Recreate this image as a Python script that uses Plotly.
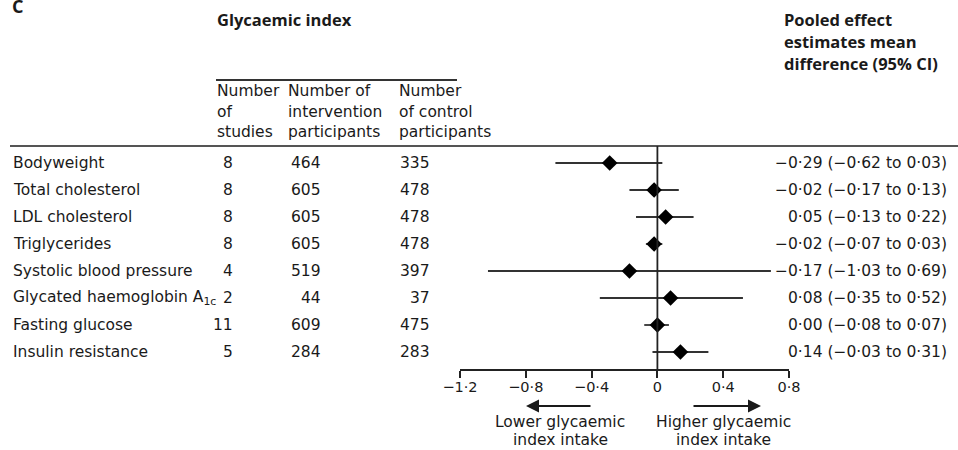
import plotly.graph_objects as go

# Outcomes and study counts
outcomes = [
    "Bodyweight",
    "Total cholesterol",
    "LDL cholesterol",
    "Triglycerides",
    "Systolic blood pressure",
    "Glycated haemoglobin A<sub>1c</sub>",
    "Fasting glucose",
    "Insulin resistance",
]
n_studies = [8, 8, 8, 8, 4, 2, 11, 5]
n_intervention = [464, 605, 605, 605, 519, 44, 609, 284]
n_control = [335, 478, 478, 478, 397, 37, 475, 283]

# Pooled mean differences with 95% CI
mean_diff = [-0.29, -0.02, 0.05, -0.02, -0.17, 0.08, 0.00, 0.14]
ci_low = [-0.62, -0.17, -0.13, -0.07, -1.03, -0.35, -0.08, -0.03]
ci_high = [0.03, 0.13, 0.22, 0.03, 0.69, 0.52, 0.07, 0.31]

tick_vals = [-1.2, -0.8, -0.4, 0, 0.4, 0.8]

W, H = 958, 450
FONT = "DejaVu Sans"
BOLD_FONT = "Open Sans"
TXT = "#1a1a1a"
FS = 15.5
BFS = 16.5


def fmt(v):
    s = f"{abs(v):.2f}".replace(".", "\u00b7")
    return ("\u2212" + s) if v < 0 else s


def fmt_tick(v):
    if v == 0:
        return "0"
    s = f"{abs(v):.1f}".replace(".", "\u00b7")
    return ("\u2212" + s) if v < 0 else s


def px(x):
    return x / W


def py(y):
    return 1 - y / H


rows = list(range(len(outcomes)))

fig = go.Figure()
fig.add_trace(go.Scatter(
    x=mean_diff,
    y=rows,
    mode="markers",
    marker=dict(symbol="diamond", size=12, color="black"),
    error_x=dict(
        type="data",
        symmetric=False,
        array=[h - m for h, m in zip(ci_high, mean_diff)],
        arrayminus=[m - l for m, l in zip(mean_diff, ci_low)],
        color="#333333",
        thickness=1.8,
        width=0,
    ),
    showlegend=False,
    hoverinfo="skip",
))

ann = []


def add_text(text, x, y, xanchor="left", yref="y", bold=False, size=None):
    ann.append(dict(
        text=f"<b>{text}</b>" if bold else text,
        x=x, y=y, xref="paper", yref=yref,
        xanchor=xanchor, yanchor="middle",
        align=xanchor if xanchor != "center" else "center",
        showarrow=False, borderpad=0,
        font=dict(family=BOLD_FONT if bold else FONT,
                  size=size or (BFS if bold else FS), color=TXT),
    ))


# Table body
for i in rows:
    add_text(outcomes[i], px(12), i)
    add_text(str(n_studies[i]), px(234), i, xanchor="right")
    add_text(str(n_intervention[i]), px(322), i, xanchor="right")
    add_text(str(n_control[i]), px(431), i, xanchor="right")
    ci_text = f"{fmt(mean_diff[i])} ({fmt(ci_low[i])} to {fmt(ci_high[i])})"
    add_text(ci_text, px(948), i, xanchor="right")

# Headers
add_text("C", px(11), py(6), yref="paper", bold=True, size=18)
add_text("Glycaemic index", px(216), py(20), yref="paper", bold=True)
for j, line in enumerate(["Pooled effect", "estimates mean", "difference (95% CI)"]):
    add_text(line, px(783), py(19 + 22 * j), yref="paper", bold=True)
col_heads = [
    (216, ["Number", "of", "studies"]),
    (287, ["Number of", "intervention", "participants"]),
    (398, ["Number", "of control", "participants"]),
]
for xpos, lines in col_heads:
    for j, line in enumerate(lines):
        add_text(line, px(xpos), py(91 + 20.5 * j), yref="paper")

# Direction labels
for cx, label in [(560, "Lower glycaemic"), (723, "Higher glycaemic")]:
    add_text(label, px(cx), py(422), xanchor="center", yref="paper")
    add_text("index intake", px(cx), py(440), xanchor="center", yref="paper")

# Direction arrows
for tip, tail in [(526, 592), (761, 692)]:
    ann.append(dict(
        x=px(tip), y=py(406), xref="paper", yref="paper",
        ax=tail - tip, ay=0, axref="pixel", ayref="pixel",
        showarrow=True, arrowhead=2, arrowsize=1.3, arrowwidth=2,
        arrowcolor="#1a1a1a", text="",
    ))

shapes = [
    # rule under the group title
    dict(type="line", xref="paper", yref="paper",
         x0=px(216), x1=px(457), y0=py(80), y1=py(80),
         line=dict(color="#333333", width=2)),
    # rule under the column headers
    dict(type="line", xref="paper", yref="paper",
         x0=px(10), x1=1, y0=py(146), y1=py(146),
         line=dict(color="#555555", width=2)),
    # line of no effect
    dict(type="line", xref="x", yref="paper",
         x0=0, x1=0, y0=py(369), y1=py(146),
         line=dict(color="#222222", width=1.8)),
]

row_px0, row_step = 163.0, 27.0
axis_px = 369.0

fig.update_layout(
    template="none",
    width=W, height=H,
    margin=dict(l=0, r=0, t=0, b=0, pad=0, autoexpand=False),
    paper_bgcolor="white",
    plot_bgcolor="white",
    showlegend=False,
    annotations=ann,
    shapes=shapes,
    xaxis=dict(
        domain=[px(460), px(789)],
        range=[-1.2, 0.8],
        tickvals=tick_vals,
        ticktext=[fmt_tick(v) for v in tick_vals],
        ticks="outside", ticklen=7, tickwidth=1.8, tickcolor="#222222",
        ticklabelstandoff=-3,
        showline=True, linecolor="#222222", linewidth=1.8,
        showgrid=False, zeroline=False,
        tickfont=dict(family=FONT, size=14.5, color=TXT),
        automargin=False,
        fixedrange=True,
    ),
    yaxis=dict(
        domain=[py(axis_px), 1],
        range=[(axis_px - row_px0) / row_step, -row_px0 / row_step],
        visible=False,
        automargin=False,
        fixedrange=True,
    ),
)

fig.write_html("out.html")
